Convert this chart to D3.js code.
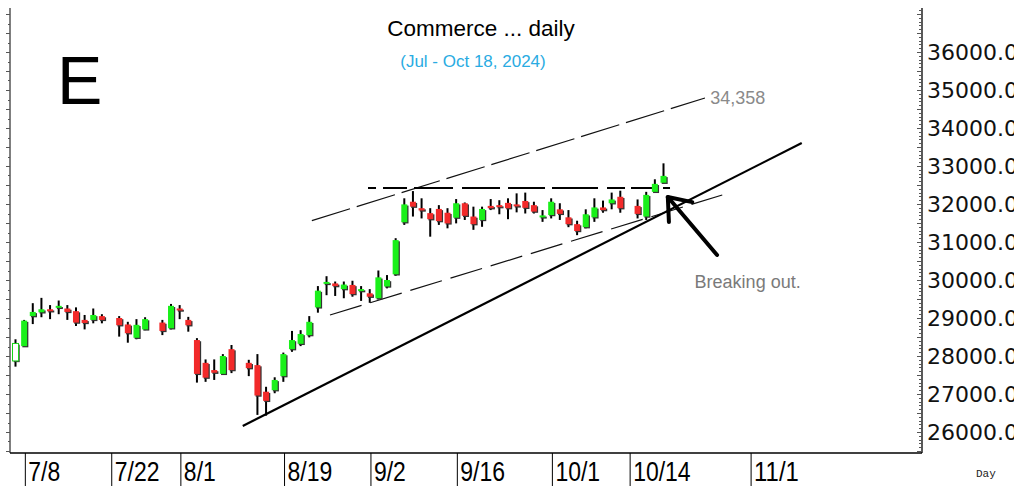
<!DOCTYPE html>
<html><head><meta charset="utf-8">
<script src="https://cdn.jsdelivr.net/npm/d3@7"></script>
<style>body{margin:0;background:#fff}svg{display:block}</style>
</head><body><svg id="c" width="1014" height="486"></svg>
<script>
// ---- data ----
const dates = ["7/5","7/8","7/9","7/10","7/11","7/12","7/15","7/16","7/17","7/18","7/19",
"7/23","7/24","7/25","7/26","7/30","7/31","8/1","8/2","8/5","8/6","8/7","8/8","8/9",
"8/13","8/14","8/15","8/16","8/19","8/20","8/21","8/22","8/23","8/26","8/27","8/28","8/29","8/30",
"9/2","9/3","9/4","9/5","9/6","9/9","9/10","9/11","9/12","9/13","9/16","9/17","9/18","9/19","9/20",
"9/23","9/24","9/25","9/26","9/27","9/30","10/1","10/2","10/3","10/4","10/7","10/8","10/9","10/10","10/11",
"10/15","10/16","10/17","10/18"];
const openV = [27870,28260,29050,29150,29230,29270,29250,29180,28950,28950,29050,
29000,28830,28480,28700,28880,28730,29250,28950,28420,27820,27630,27530,28180,
27820,27760,27060,27100,27470,28180,28320,28550,29280,29900,29910,29760,29870,29710,
29650,29520,29830,30150,31520,32060,31890,31760,31870,31770,31640,32020,31670,31580,31950,
31970,32030,31990,32080,31970,31650,31710,31860,31650,31470,31390,31650,31910,32020,32190,
31950,31670,32320,32560];
const highV = [28440,28950,29390,29530,29340,29460,29340,29280,29080,29250,29100,
29050,28900,28970,29020,28950,29370,29340,29030,28470,27910,27910,28050,28290,
27900,28050,27190,27440,28090,28660,28680,29050,29840,30100,29960,29960,29980,29840,
29760,30250,30130,31100,32150,32340,32150,31890,31970,31890,32130,32040,31930,31930,32130,
32100,32150,32280,32300,32060,31840,32150,32020,31840,31560,31860,32150,32090,32300,32350,
32120,32320,32650,33070];
const lowV = [27720,28240,28840,29020,28970,29100,28950,28790,28700,28860,28860,
28510,28350,28440,28680,28550,28700,28970,28640,27300,27320,27370,27500,27550,
27470,26450,26430,27020,27320,28110,28260,28490,29140,29600,29580,29520,29560,29450,
29400,29490,29780,30110,31450,31670,31620,31140,31450,31360,31490,31580,31320,31400,31840,
31730,31600,31780,31750,31750,31530,31620,31580,31390,31180,31360,31530,31770,31860,31770,
31620,31580,32300,32540];
const closeV = [28330,28930,29160,29230,29190,29320,29160,28880,28870,29080,28950,
28810,28600,28820,28970,28660,29320,29210,28810,27530,27430,27560,28000,27630,
27680,26960,26820,27370,28050,28420,28580,28900,29720,29950,29840,29880,29630,29760,
29560,30070,30000,31050,31990,31930,31830,31600,31550,31490,32020,31690,31470,31870,31890,
31930,31890,31950,31900,31800,31700,32060,31740,31470,31290,31730,31910,31840,32120,31890,
31740,32240,32530,32740];

const yTicks = [26000,27000,28000,29000,30000,31000,32000,33000,34000,35000,36000];
const xLabels = ["7/8","7/22","8/1","8/19","9/2","9/16","10/1","10/14","11/1"];

// trend lines, x in trading-day index (0 = 7/5), y in index value
const supportLine   = [{d:26.3, v:26158}, {d:91.0, v:33605}];
const upperChannel  = [{d:34.3, v:31563}, {d:79.8, v:34789}];
const lowerChannel  = [{d:36.4, v:29079}, {d:81.8, v:32237}];
const resistance    = [{d:40.8, v:32421}, {d:76.0, v:32421}];
const arrowPts      = [{d:81.2, v:30658}, {d:75.5, v:32184}];
const targetLabel   = {d:80.4, v:34800, text:"34,358"};
const noteLabel     = {d:78.6, v:29960, text:"Breaking out."};

// ---- calendar of weekday slots ----
const allDays = d3.timeDay.range(new Date(2024,6,5), new Date(2024,11,31))
  .filter(d => d.getDay() !== 0 && d.getDay() !== 6);
const fmt = d => (d.getMonth()+1) + "/" + d.getDate();
const slotOf = new Map(allDays.map((d,i) => [fmt(d), i]));

const svg = d3.select("#c");
const L = 10, R = 922, T = 8, B = 453;
const x = d3.scaleLinear().domain([0, 85]).range([15.5, 15.5 + 85*8.64]);
const y = d3.scaleLinear().domain([26000, 36000]).range([432, 52]);

const candles = dates.map((d,i) => ({slot: slotOf.get(d), o: openV[i], h: highV[i], l: lowV[i], c: closeV[i], i}));

// ---- axes frame ----
const g = svg.append("g");
g.append("line").attr("x1", L).attr("x2", R).attr("y1", B).attr("y2", B).attr("stroke", "#000").attr("stroke-width", 1.3);
g.append("line").attr("x1", R).attr("x2", R).attr("y1", T).attr("y2", B).attr("stroke", "#000").attr("stroke-width", 1.3);
g.append("line").attr("x1", L).attr("x2", L).attr("y1", T).attr("y2", B).attr("stroke", "#000").attr("stroke-width", 1);

const rightTicks = d3.range(25500, 37200, 100).filter(v => y(v) >= T && y(v) <= B);
g.selectAll(".rt").data(rightTicks).join("line")
  .attr("x1", v => R - (v % 500 === 0 ? 5 : 3)).attr("x2", R)
  .attr("y1", v => Math.round(y(v)) + 0.5).attr("y2", v => Math.round(y(v)) + 0.5)
  .attr("stroke", "#555").attr("stroke-width", 1);
const leftTicks = d3.range(25500, 37200, 250).filter(v => y(v) >= T && y(v) <= B);
g.selectAll(".lt").data(leftTicks).join("line")
  .attr("x1", v => L - (v % 500 === 0 ? 4 : 2)).attr("x2", L)
  .attr("y1", v => Math.round(y(v)) + 0.5).attr("y2", v => Math.round(y(v)) + 0.5)
  .attr("stroke", "#555").attr("stroke-width", 1);

g.selectAll(".yl").data(yTicks).join("text")
  .attr("x", 927).attr("y", v => y(v)).attr("dy", "0.36em")
  .attr("font-family", "DejaVu Sans, Verdana, sans-serif").attr("font-size", 22)
  .attr("fill", "#111").text(v => v.toFixed(2));

const xl = g.selectAll(".xl").data(xLabels).join("g")
  .attr("transform", d => `translate(${x(slotOf.get(d)) + 1.2},0)`);
xl.append("line").attr("x1", 0).attr("x2", 0).attr("y1", B).attr("y2", 486).attr("stroke", "#000").attr("stroke-width", 1);
xl.append("text").attr("x", 3).attr("y", 481)
  .attr("font-family", "Liberation Sans Narrow, Arial Narrow, Liberation Sans, sans-serif")
  .attr("font-size", 28).attr("fill", "#000")
  .attr("textLength", d => d.split("").reduce((s,ch) => s + (ch === "/" ? 0.228 : 0.456), 0) * 28)
  .attr("lengthAdjust", "spacingAndGlyphs")
  .text(d => d);
g.append("text").attr("x", 976).attr("y", 477).attr("font-family", "Liberation Mono, DejaVu Sans Mono, monospace")
  .attr("font-size", 11).attr("fill", "#222").text("Day");

// ---- titles ----
svg.append("text").attr("x", 481).attr("y", 36).attr("text-anchor", "middle")
  .attr("font-family", "Liberation Sans, Arial, sans-serif").attr("font-size", 22.5).attr("fill", "#000")
  .text("Commerce ... daily");
svg.append("text").attr("x", 473).attr("y", 67).attr("text-anchor", "middle")
  .attr("font-family", "Liberation Sans, Arial, sans-serif").attr("font-size", 17).attr("fill", "#29abe2")
  .text("(Jul - Oct 18, 2024)");
svg.append("text").attr("x", 57).attr("y", 104)
  .attr("font-family", "Liberation Sans, Arial, sans-serif").attr("font-size", 68).attr("fill", "#000")
  .text("E");

// ---- trend lines ----
const line = d3.line().x(p => x(p.d)).y(p => y(p.v));
const lines = svg.append("g").attr("fill", "none");
lines.append("path").datum(upperChannel).attr("d", line).attr("stroke", "#111").attr("stroke-width", 1.2).attr("stroke-dasharray", "40,7");
lines.append("path").datum(lowerChannel).attr("d", line).attr("stroke", "#111").attr("stroke-width", 1.2).attr("stroke-dasharray", "33,9");
lines.append("path").datum(resistance).attr("d", line).attr("stroke", "#000").attr("stroke-width", 2).attr("stroke-dasharray", "8,7,24,7,39,9,38,8,37,7,46,9,18,6,24");
lines.append("path").datum(supportLine).attr("d", line).attr("stroke", "#000").attr("stroke-width", 2.2);

// ---- candles ----
const cg = svg.append("g");
const cw = 6;
const cs = cg.selectAll(".cd").data(candles).join("g");
cs.append("line").attr("x1", d => x(d.slot)).attr("x2", d => x(d.slot))
  .attr("y1", d => y(d.h)).attr("y2", d => y(d.l)).attr("stroke", "#000").attr("stroke-width", 2);
const bodyTop = d => y(Math.max(d.o, d.c));
const bodyH = d => Math.max(2, Math.abs(y(d.o) - y(d.c)));
cs.append("rect").attr("x", d => x(d.slot) - cw/2 + 1.2).attr("y", d => bodyTop(d) + 1.2)
  .attr("width", cw).attr("height", bodyH).attr("fill", "#333");
cs.append("rect").attr("x", d => x(d.slot) - cw/2).attr("y", bodyTop)
  .attr("width", cw).attr("height", bodyH)
  .attr("fill", d => d.i === 0 ? "#fff" : (d.c >= d.o ? "#1af01a" : "#f22a2a"))
  .attr("stroke", d => d.i === 0 ? "#19d419" : "none").attr("stroke-width", 1);

// ---- annotations ----
svg.append("text").attr("x", x(targetLabel.d)).attr("y", y(targetLabel.v)).attr("dy", "0.35em")
  .attr("font-family", "Liberation Sans, Arial, sans-serif").attr("font-size", 18).attr("fill", "#8a8a8a")
  .text(targetLabel.text);
svg.append("text").attr("x", x(noteLabel.d)).attr("y", y(noteLabel.v)).attr("dy", "0.35em")
  .attr("font-family", "Liberation Sans, Arial, sans-serif").attr("font-size", 18).attr("fill", "#7a7a7a")
  .text(noteLabel.text);

const tail = [x(arrowPts[0].d), y(arrowPts[0].v)], tip = [x(arrowPts[1].d), y(arrowPts[1].v)];
const ang = Math.atan2(tail[1]-tip[1], tail[0]-tip[0]);
const al = 25, spread = 0.66;
const a1 = [tip[0] + al*Math.cos(ang - spread), tip[1] + al*Math.sin(ang - spread)];
const a2 = [tip[0] + al*Math.cos(ang + spread), tip[1] + al*Math.sin(ang + spread)];
const ag = svg.append("g").attr("fill", "none").attr("stroke", "#000").attr("stroke-width", 4).attr("stroke-linecap", "round").attr("stroke-linejoin", "round");
ag.append("path").attr("d", d3.line()([tail, tip]));
ag.append("path").attr("d", d3.line()([a1, tip, a2]));
</script></body></html>
